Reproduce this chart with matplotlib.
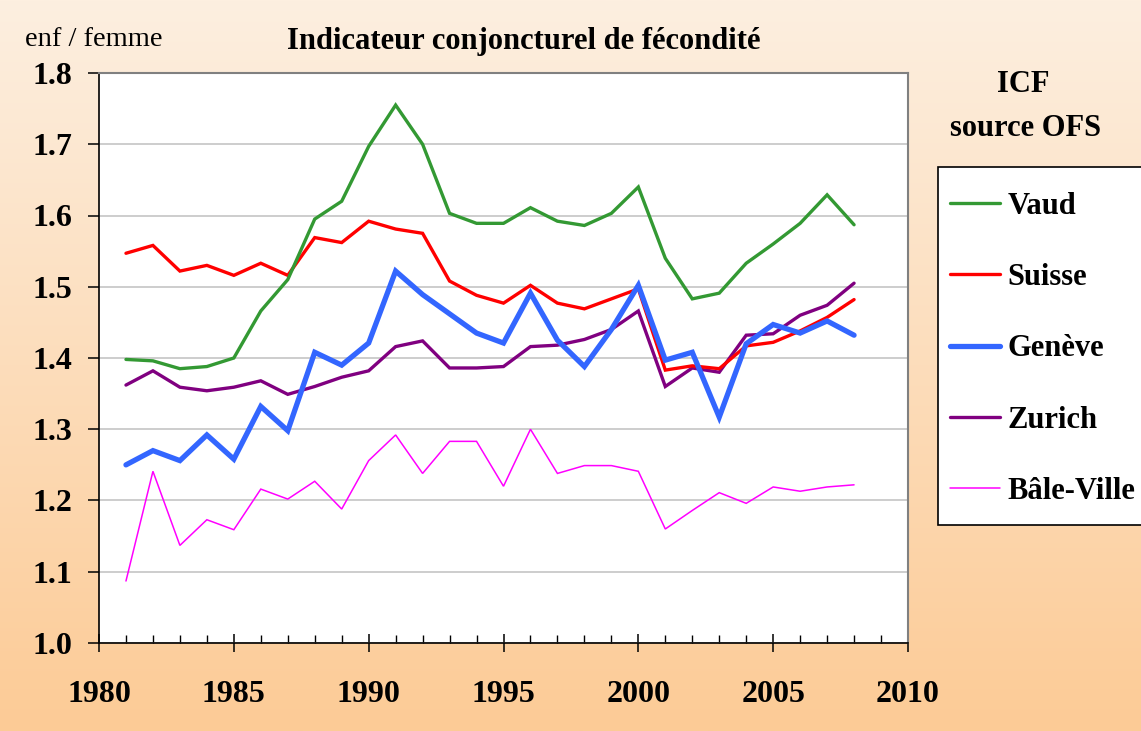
import numpy as np
import matplotlib
import matplotlib.pyplot as plt
from matplotlib.ticker import MultipleLocator, FormatStrFormatter
from matplotlib.patches import Rectangle

matplotlib.use("Agg")

years = list(range(1981, 2009))

vaud = [1.398, 1.396, 1.385, 1.388, 1.400, 1.466, 1.510, 1.595, 1.620, 1.697,
        1.755, 1.700, 1.603, 1.589, 1.589, 1.611, 1.592, 1.586, 1.603, 1.640,
        1.540, 1.483, 1.491, 1.533, 1.560, 1.589, 1.629, 1.587]
suisse = [1.547, 1.558, 1.522, 1.530, 1.516, 1.533, 1.516, 1.569, 1.562, 1.592,
          1.581, 1.575, 1.508, 1.488, 1.477, 1.502, 1.477, 1.469, 1.483, 1.497,
          1.383, 1.389, 1.385, 1.417, 1.422, 1.438, 1.457, 1.482]
geneve = [1.250, 1.270, 1.256, 1.292, 1.258, 1.332, 1.298, 1.408, 1.390, 1.421,
          1.522, 1.489, 1.462, 1.435, 1.421, 1.491, 1.425, 1.388, 1.440, 1.502,
          1.397, 1.408, 1.317, 1.420, 1.447, 1.435, 1.452, 1.432]
zurich = [1.362, 1.382, 1.359, 1.354, 1.359, 1.368, 1.349, 1.360, 1.373, 1.382,
          1.416, 1.424, 1.386, 1.386, 1.388, 1.416, 1.418, 1.426, 1.440, 1.466,
          1.360, 1.386, 1.380, 1.432, 1.434, 1.460, 1.474, 1.505]
bale = [1.087, 1.241, 1.137, 1.173, 1.159, 1.216, 1.202, 1.227, 1.188, 1.256,
        1.292, 1.238, 1.283, 1.283, 1.220, 1.300, 1.238, 1.249, 1.249, 1.241,
        1.160, 1.186, 1.211, 1.196, 1.219, 1.213, 1.219, 1.222]

plt.rcParams['font.family'] = ['Liberation Serif', 'DejaVu Serif']

W, H = 1141, 731
fig = plt.figure(figsize=(W / 100, H / 100), dpi=100)

# background gradient, cream at the top to peach at the bottom
bg = fig.add_axes([0, 0, 1, 1], zorder=-10)
top = np.array([253, 239, 224]) / 255
bot = np.array([252, 203, 150]) / 255
t = np.linspace(0, 1, 256)[:, None]
grad = (top * (1 - t) + bot * t)[:, None, :]
bg.imshow(grad, aspect='auto', extent=[0, 1, 0, 1])
bg.axis('off')

ax = fig.add_axes([99 / W, 1 - 643 / H, 809 / W, 570 / H])
ax.set_facecolor('white')

series = [
    ("Vaud", vaud, '#339933', 2.4),
    ("Suisse", suisse, '#ff0000', 2.4),
    ("Genève", geneve, '#3366ff', 3.8),
    ("Zurich", zurich, '#800080', 2.4),
    ("Bâle-Ville", bale, '#ff00ff', 1.1),
]
order = [4, 3, 1, 0, 2]
handles = {}
for i in order:
    name, vals, col, lw = series[i]
    h, = ax.plot(years, vals, color=col, lw=lw, label=name,
                 solid_capstyle='round', solid_joinstyle='miter')
    handles[i] = h

ax.set_xlim(1980, 2010)
ax.set_ylim(1.0, 1.8)
ax.yaxis.set_major_locator(MultipleLocator(0.1))
ax.xaxis.set_major_locator(MultipleLocator(5))
ax.xaxis.set_minor_locator(MultipleLocator(1))
ax.yaxis.set_major_formatter(FormatStrFormatter('%.1f'))
ax.grid(axis='y', color='#c0c0c0', lw=1.1)
ax.set_axisbelow(True)

for s in ['top', 'right']:
    ax.spines[s].set_color('#808080')
    ax.spines[s].set_linewidth(1.5)
for s in ['left', 'bottom']:
    ax.spines[s].set_color('black')
    ax.spines[s].set_linewidth(1.2)

ax.tick_params(axis='y', direction='out', length=8, width=1.1,
               labelsize=23, pad=11)
ax.tick_params(axis='x', which='major', direction='inout', length=13,
               width=1.1, labelsize=23, pad=20)
ax.tick_params(axis='x', which='minor', direction='in', length=6, width=1.0)
for lab in ax.get_xticklabels() + ax.get_yticklabels():
    lab.set_fontweight('bold')

fig.text(25 / W, 1 - 39 / H, "enf / femme", fontsize=20.5, va='center')
fig.text(524 / W, 1 - 41 / H, "Indicateur conjoncturel de fécondité",
         fontsize=22, fontweight='bold', ha='center', va='center')
fig.text(1023 / W, 1 - 85 / H, "ICF", fontsize=22,
         fontweight='bold', ha='center', va='center')
fig.text(1025 / W, 1 - 129 / H, "source OFS", fontsize=22,
         fontweight='bold', ha='center', va='center')

# legend frame, running past the right edge like the reference
fig.patches.append(Rectangle((938 / W, 1 - 525 / H), 220 / W, 358 / H,
                             transform=fig.transFigure, facecolor='white',
                             edgecolor='black', lw=1.2, zorder=1))
leg = fig.legend([handles[i] for i in range(5)], [s[0] for s in series],
                 loc='upper left', bbox_to_anchor=(950 / W, 1 - 192 / H),
                 frameon=False, handlelength=1.63, handletextpad=0.26,
                 labelspacing=1.38, borderpad=0, borderaxespad=0,
                 prop={'weight': 'bold', 'size': 22})
leg.set_zorder(2)

fig.savefig("out.png", dpi=100)
